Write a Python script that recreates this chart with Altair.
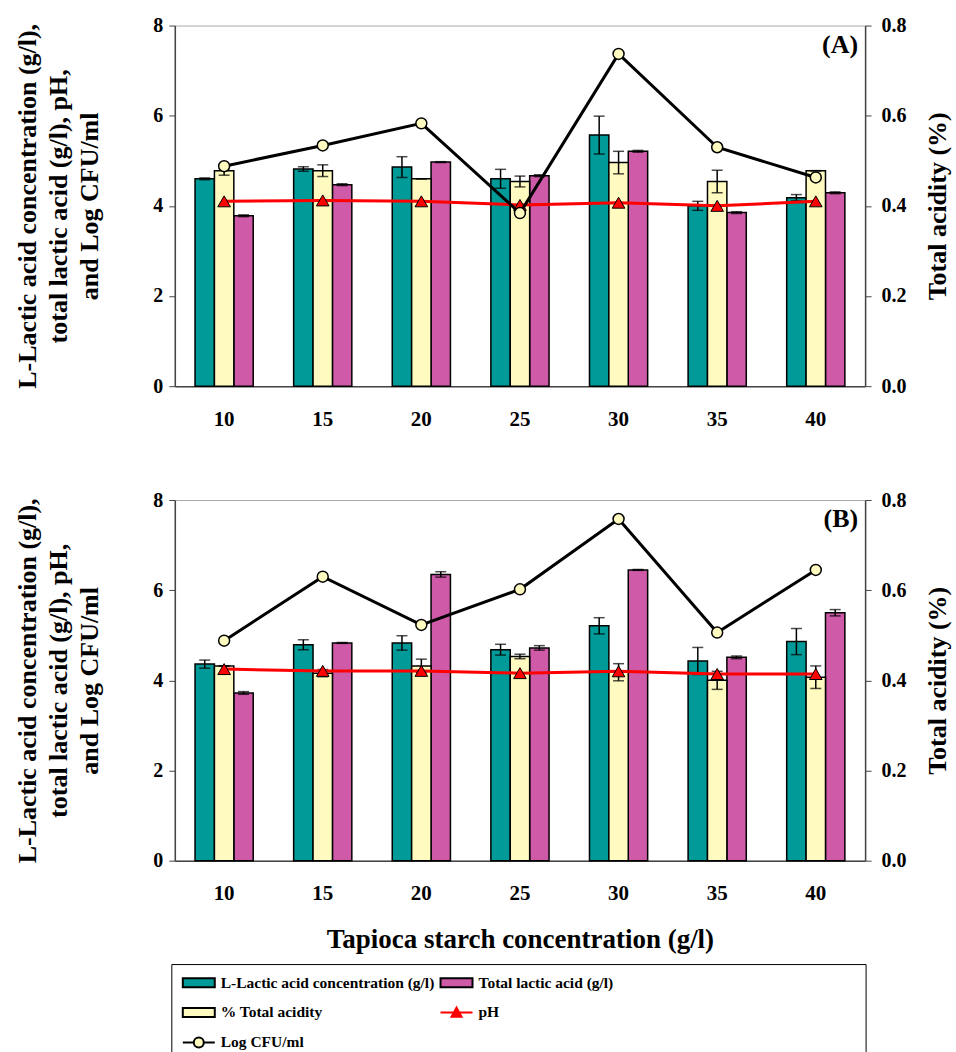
import altair as alt
import pandas as pd

# Tapioca starch concentration (g/l)
conc = [10, 15, 20, 25, 30, 35, 40]

# Panel (A)
lactic_a = [4.60, 4.82, 4.86, 4.60, 5.57, 4.00, 4.18]
lactic_a_err = [0.02, 0.05, 0.23, 0.21, 0.42, 0.10, 0.07]
acidity_a = [0.478, 0.478, 0.460, 0.454, 0.496, 0.454, 0.478]
acidity_a_err = [0.010, 0.013, 0.0, 0.012, 0.025, 0.025, 0.0]
total_a = [3.78, 4.47, 4.97, 4.67, 5.21, 3.85, 4.29]
total_a_err = [0.02, 0.02, 0.01, 0.02, 0.02, 0.02, 0.02]
ph_a = [4.10, 4.12, 4.10, 4.02, 4.07, 4.00, 4.10]
cfu_a = [4.88, 5.34, 5.83, 3.84, 7.37, 5.30, 4.63]

# Panel (B)
lactic_b = [4.36, 4.79, 4.83, 4.68, 5.21, 4.43, 4.86]
lactic_b_err = [0.09, 0.11, 0.16, 0.12, 0.18, 0.30, 0.29]
acidity_b = [0.432, 0.416, 0.432, 0.453, 0.418, 0.400, 0.407]
acidity_b_err = [0.0, 0.008, 0.015, 0.005, 0.019, 0.020, 0.025]
total_b = [3.72, 4.83, 6.35, 4.72, 6.45, 4.51, 5.50]
total_b_err = [0.03, 0.01, 0.06, 0.05, 0.01, 0.03, 0.07]
ph_b = [4.25, 4.21, 4.21, 4.16, 4.20, 4.14, 4.14]
cfu_b = [4.88, 6.30, 5.23, 6.02, 7.58, 5.06, 6.45]

legend_names = [
    "L-Lactic acid concentration (g/l)",
    "Total lactic acid (g/l)",
    "%  Total acidity",
    "pH",
    "Log CFU/ml",
]

TEAL = "#009A98"
MAGENTA = "#CF5AA8"
PALE = "#FFFBC0"
RED = "#FF0000"
AXIS_GREY = "#444444"
FONT = "Liberation Serif"

W, H = 691, 361
parts = ["lactic", "acidity", "total"]

x_scale = alt.Scale(paddingInner=0.41, paddingOuter=0.205)
off_scale = alt.Scale(domain=parts, paddingInner=0, paddingOuter=0)
left_scale = alt.Scale(domain=[0, 8], nice=False)
right_scale = alt.Scale(domain=[0, 0.8], nice=False)

left_axis = alt.Axis(
    title=["L-Lactic acid concentration (g/l),", "total lactic acid (g/l), pH,", "and Log CFU/ml"],
    values=[0, 2, 4, 6, 8], format="d", tickSize=6, labelPadding=6,
    titlePadding=50, titleFontSize=26, titleLineHeight=31, labelFontSize=20,
    domainColor=AXIS_GREY, tickColor=AXIS_GREY, domainWidth=1.5, grid=False,
)
right_axis = alt.Axis(
    orient="right", title="Total acidity (%)", values=[0, 0.2, 0.4, 0.6, 0.8],
    format=".1f", tickSize=6, labelPadding=10, titlePadding=18, titleFontSize=26,
    titleAngle=270, titleBaseline="top", labelFontSize=20, domainColor=AXIS_GREY,
    tickColor=AXIS_GREY, domainWidth=1.5, grid=False,
)


def x_enc(with_title):
    axis = alt.Axis(
        title="Tapioca starch concentration (g/l)" if with_title else None,
        labelAngle=0, ticks=False, labelPadding=22, labelFontSize=21,
        titleFontSize=27, titlePadding=23, domainColor=AXIS_GREY, domainWidth=1.5,
    )
    return alt.X("conc:O", scale=x_scale, axis=axis)


def frame(values, errors, part):
    return pd.DataFrame({
        "conc": conc,
        "part": part,
        "value": values,
        "lo": [v - e for v, e in zip(values, errors)],
        "hi": [v + e for v, e in zip(values, errors)],
    })


def error_bars(src, x, scale, axis):
    off = alt.XOffset("part:N", scale=off_scale)
    rule = src.mark_rule(color="black", strokeWidth=1.5).encode(
        x=x, xOffset=off,
        y=alt.Y("lo:Q", scale=scale, axis=axis), y2="hi:Q",
    )
    cap_lo = src.mark_tick(color="black", size=11, thickness=1.5).encode(
        x=x, xOffset=off, y=alt.Y("lo:Q", scale=scale, axis=axis),
    )
    cap_hi = src.mark_tick(color="black", size=11, thickness=1.5).encode(
        x=x, xOffset=off, y=alt.Y("hi:Q", scale=scale, axis=axis),
    )
    return [rule, cap_lo, cap_hi]


def panel(tag, lactic, lactic_err, acidity, acidity_err, total, total_err, ph, cfu, with_title):
    x = x_enc(with_title)
    off = alt.XOffset("part:N", scale=off_scale)

    # L-lactic and total lactic acid bars on the left axis
    left_df = pd.concat([frame(lactic, lactic_err, "lactic"), frame(total, total_err, "total")])
    left_src = alt.Chart(left_df)
    left_bars = left_src.mark_bar(stroke="black", strokeWidth=1.5).encode(
        x=x, xOffset=off,
        y=alt.Y("value:Q", scale=left_scale, axis=left_axis),
        fill=alt.Fill("part:N", scale=alt.Scale(domain=["lactic", "total"], range=[TEAL, MAGENTA]), legend=None),
    )
    left_group = alt.layer(left_bars, *error_bars(left_src, x, left_scale, left_axis))

    # total acidity bars on the right axis
    right_src = alt.Chart(frame(acidity, acidity_err, "acidity"))
    right_bars = right_src.mark_bar(stroke="black", strokeWidth=1.5, fill=PALE).encode(
        x=x, xOffset=off,
        y=alt.Y("value:Q", scale=right_scale, axis=right_axis),
    )
    right_group = alt.layer(right_bars, *error_bars(right_src, x, right_scale, right_axis))

    # pH and Log CFU/ml lines, same 0-8 scale as the left axis
    line_src = alt.Chart(pd.DataFrame({"conc": conc, "ph": ph, "cfu": cfu}))
    y_ph = alt.Y("ph:Q", scale=left_scale, axis=None)
    y_cfu = alt.Y("cfu:Q", scale=left_scale, axis=None)
    ph_line = line_src.mark_line(color=RED, strokeWidth=3).encode(x=x, y=y_ph)
    ph_pts = line_src.mark_point(shape="triangle-up", filled=True, fill=RED, stroke="black",
                                 strokeWidth=1, size=160, opacity=1).encode(x=x, y=y_ph)
    cfu_line = line_src.mark_line(color="black", strokeWidth=3).encode(x=x, y=y_cfu)
    cfu_pts = line_src.mark_point(shape="circle", filled=True, fill=PALE, stroke="black",
                                  strokeWidth=1.5, size=120, opacity=1).encode(x=x, y=y_cfu)
    tag_text = alt.Chart(pd.DataFrame({"tag": [tag]})).mark_text(
        align="right", baseline="middle", fontSize=26, fontWeight="bold", font=FONT, color="black",
    ).encode(x=alt.value(W - 7), y=alt.value(19), text="tag:N")
    line_group = alt.layer(ph_line, ph_pts, cfu_line, cfu_pts, tag_text)

    return alt.layer(left_group, right_group, line_group).resolve_scale(
        y="independent", fill="independent"
    ).properties(width=W, height=H, view=alt.ViewBackground(stroke="#AAAAAA", strokeWidth=1))


panel_a = panel("(A)", lactic_a, lactic_a_err, acidity_a, acidity_a_err, total_a, total_a_err, ph_a, cfu_a, False)
panel_b = panel("(B)", lactic_b, lactic_b_err, acidity_b, acidity_b_err, total_b, total_b_err, ph_b, cfu_b, True)

# Legend: swatches for the bars, line-with-marker glyphs for pH and Log CFU/ml
rect_path = "M-1.6,-0.45H1.6V0.45H-1.6Z"
ph_path = "M-1.6,0H1.6M-0.5,0.42L0,-0.5L0.5,0.42Z"
cfu_path = ("M-1.6,0H-0.5M0.5,0H1.6M0.5,0A0.5,0.5 0 1 1 -0.5,0"
            "A0.5,0.5 0 1 1 0.5,0Z")

legend_def = alt.Legend(
    title=None, orient="none", legendX=13, legendY=-3, columns=2, direction="horizontal",
    symbolSize=400, symbolStrokeWidth=2, labelFont=FONT, labelFontWeight="bold",
    labelFontSize=15.5, labelColor="black", labelOffset=11, columnPadding=2,
    rowPadding=10, labelLimit=500, padding=0,
)
legend_src = alt.Chart(pd.DataFrame({"series": legend_names})).transform_filter("false")
legend_carrier = legend_src.mark_point(filled=True, opacity=1).encode(
    fill=alt.Fill("series:N", scale=alt.Scale(domain=legend_names, range=[TEAL, MAGENTA, PALE, RED, PALE]), legend=legend_def),
    stroke=alt.Stroke("series:N", scale=alt.Scale(domain=legend_names, range=["black", "black", "black", RED, "black"]), legend=legend_def),
    shape=alt.Shape("series:N", scale=alt.Scale(domain=legend_names, range=[rect_path, rect_path, rect_path, ph_path, cfu_path]), legend=legend_def),
)
legend_box = alt.Chart(pd.DataFrame({"box": [0]})).mark_rect(
    fillOpacity=0, stroke="black", strokeWidth=1
).encode(x=alt.value(-3), x2=alt.value(W + 1), y=alt.value(-10), y2=alt.value(95))
legend_chart = alt.layer(legend_box, legend_carrier).properties(
    width=W, height=85, view=alt.ViewBackground(strokeOpacity=0)
)

chart = alt.vconcat(panel_a, panel_b, legend_chart, spacing=114, bounds="flush").resolve_scale(
    fill="independent", stroke="independent", shape="independent"
).resolve_legend(
    fill="independent", stroke="independent", shape="independent"
).properties(
    padding={"left": 14, "top": 14, "right": 5, "bottom": 5}
).configure(font=FONT).configure_axis(
    labelFont=FONT, titleFont=FONT, labelFontWeight="bold", titleFontWeight="bold",
    labelColor="black", titleColor="black",
).configure_view(strokeWidth=0)

chart.save("out.html", embed_options={"renderer": "svg", "actions": False})
